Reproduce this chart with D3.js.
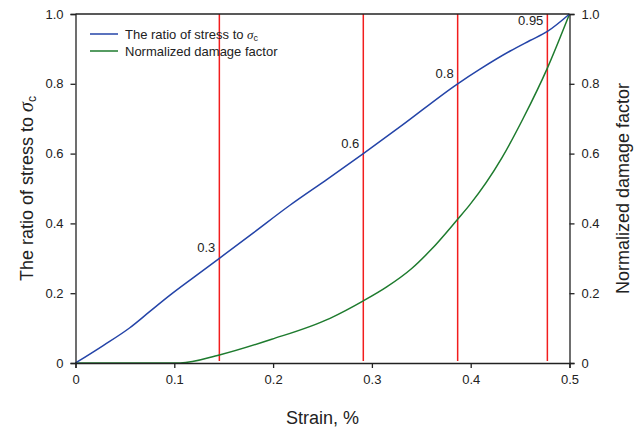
<!DOCTYPE html>
<html>
<head>
<meta charset="utf-8">
<script src="https://cdn.jsdelivr.net/npm/d3@7"></script>
<style>
  html, body { margin: 0; padding: 0; background: #fff; }
  svg { display: block; font-family: "Liberation Sans", Arial, sans-serif; }
</style>
</head>
<body>
<svg id="chart" width="635" height="432"></svg>
<script>
// Strain (%) and stress ratio σ/σc
const stressStrain = [0, 0.028, 0.055, 0.075, 0.096, 0.12, 0.1456, 0.18, 0.217, 0.255, 0.2913, 0.33, 0.3868, 0.4094, 0.44, 0.46, 0.4776, 0.5];
const stressRatio  = [0, 0.05, 0.101, 0.147, 0.195, 0.246, 0.30, 0.373, 0.452, 0.527, 0.60, 0.68, 0.80, 0.842, 0.894, 0.924, 0.95, 1.0];

// Strain (%) and normalized damage factor
const damageStrain = [0, 0.106, 0.1456, 0.1986, 0.2576, 0.2913, 0.315, 0.34, 0.36, 0.3868, 0.399, 0.4314, 0.4533, 0.4776, 0.5];
const damageValue  = [0, 0, 0.023, 0.068, 0.128, 0.178, 0.218, 0.27, 0.325, 0.412, 0.453, 0.587, 0.702, 0.845, 1.0];

// Marker strains (red vertical lines) and their stress-ratio labels
const markerStrain = [0.1456, 0.2913, 0.3868, 0.4776];
const markerLabel  = ["0.3", "0.6", "0.8", "0.95"];
const markerValue  = [0.3, 0.6, 0.8, 0.95];

const xTicks = [0, 0.1, 0.2, 0.3, 0.4, 0.5];
const yTicks = [0, 0.2, 0.4, 0.6, 0.8, 1.0];

const svg = d3.select("#chart");
const plotLeft = 75.5, plotRight = 569.5, plotTop = 14, plotBottom = 363;

const x = d3.scaleLinear().domain([0, 0.5]).range([plotLeft, plotRight]);
const yL = d3.scaleLinear().domain([0, 1]).range([plotBottom, plotTop]);
const yR = d3.scaleLinear().domain([0, 1]).range([plotBottom, plotTop]);

const fmtY = d => d === 0 ? "0" : d3.format(".1f")(d);
const fmtX = d => d === 0 ? "0" : d3.format(".1f")(d);

// Red marker lines
svg.append("g").selectAll("line").data(markerStrain).join("line")
  .attr("x1", d => x(d)).attr("x2", d => x(d))
  .attr("y1", plotTop).attr("y2", plotBottom - 2)
  .attr("stroke", "#f21d1d").attr("stroke-width", 1.5);

// Curves
const lineL = d3.line().x(d => x(d[0])).y(d => yL(d[1])).curve(d3.curveMonotoneX);
const lineR = d3.line().x(d => x(d[0])).y(d => yR(d[1])).curve(d3.curveMonotoneX);

svg.append("path")
  .datum(damageStrain.map((s, i) => [s, damageValue[i]]))
  .attr("d", lineR).attr("fill", "none")
  .attr("stroke", "#1e7b2e").attr("stroke-width", 1.5);

svg.append("path")
  .datum(stressStrain.map((s, i) => [s, stressRatio[i]]))
  .attr("d", lineL).attr("fill", "none")
  .attr("stroke", "#2444a8").attr("stroke-width", 1.5);

// Axes
const axisStyle = g => {
  g.selectAll("path").attr("stroke", "#222").attr("stroke-width", 1.3);
  g.selectAll("line").attr("stroke", "#222").attr("stroke-width", 1.3);
  g.selectAll("text").attr("fill", "#222").style("font-size", "13px")
    .style("font-family", "'Liberation Sans', Arial, sans-serif");
};

svg.append("g").attr("transform", `translate(0,${plotBottom})`)
  .call(d3.axisBottom(x).tickValues(xTicks).tickFormat(fmtX).tickSizeOuter(0).tickSize(5).tickPadding(7))
  .call(axisStyle);

svg.append("g").attr("transform", `translate(${plotLeft},0)`)
  .call(d3.axisLeft(yL).tickValues(yTicks).tickFormat(fmtY).tickSizeOuter(0).tickSize(5).tickPadding(7))
  .call(axisStyle);

svg.append("g").attr("transform", `translate(${plotRight},0)`)
  .call(d3.axisRight(yR).tickValues(yTicks).tickFormat(fmtY).tickSizeOuter(0).tickSize(5).tickPadding(7))
  .call(axisStyle);

// Top frame line
svg.append("line").attr("x1", plotLeft).attr("x2", plotRight).attr("y1", plotTop).attr("y2", plotTop)
  .attr("stroke", "#222").attr("stroke-width", 1.3);

// Marker labels
svg.append("g").selectAll("text").data(markerStrain).join("text")
  .attr("x", d => x(d) - 4)
  .attr("y", (d, i) => yL(markerValue[i]) - 6)
  .attr("text-anchor", "end")
  .style("font-size", "13px").attr("fill", "#222")
  .text((d, i) => markerLabel[i]);

// Legend
const legend = svg.append("g");
const legendItems = [
  { color: "#2444a8", y: 34 },
  { color: "#1e7b2e", y: 51 }
];
legend.selectAll("line").data(legendItems).join("line")
  .attr("x1", 90).attr("x2", 118)
  .attr("y1", d => d.y).attr("y2", d => d.y)
  .attr("stroke", d => d.color).attr("stroke-width", 1.5);

const lt1 = legend.append("text").attr("x", 125).attr("y", 38.5)
  .style("font-size", "13px").attr("fill", "#222");
lt1.append("tspan").text("The ratio of stress to ");
lt1.append("tspan").style("font-style", "italic").style("font-family", "'Liberation Serif', serif").text("σ");
lt1.append("tspan").attr("dy", 2).style("font-size", "9px").text("c");

legend.append("text").attr("x", 125).attr("y", 55.5)
  .style("font-size", "13px").attr("fill", "#222")
  .text("Normalized damage factor");

// Axis titles
svg.append("text")
  .attr("x", (plotLeft + plotRight) / 2).attr("y", 424)
  .attr("text-anchor", "middle")
  .style("font-size", "18px").attr("fill", "#222")
  .text("Strain, %");

const leftTitle = svg.append("text")
  .attr("transform", `translate(33,${(plotTop + plotBottom) / 2}) rotate(-90)`)
  .attr("text-anchor", "middle")
  .style("font-size", "18px").attr("fill", "#222");
leftTitle.append("tspan").text("The ratio of stress to ");
leftTitle.append("tspan").style("font-style", "italic").style("font-family", "'Liberation Serif', serif").style("font-size", "20px").text("σ");
leftTitle.append("tspan").attr("dy", 3).style("font-size", "12px").text("c");

svg.append("text")
  .attr("transform", `translate(629,${(plotTop + plotBottom) / 2}) rotate(-90)`)
  .attr("text-anchor", "middle")
  .style("font-size", "18px").attr("fill", "#222")
  .text("Normalized damage factor");
</script>
</body>
</html>
